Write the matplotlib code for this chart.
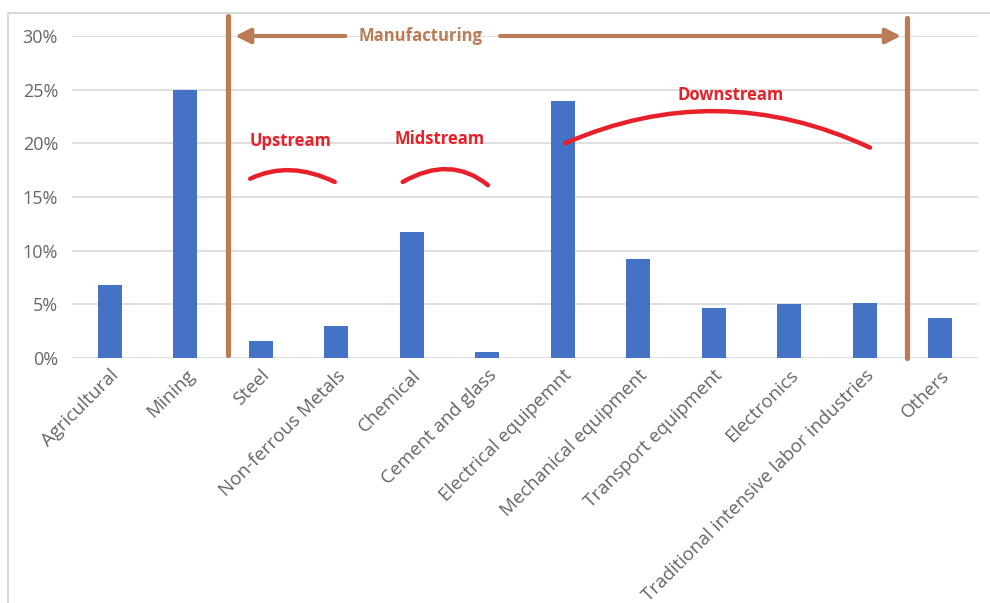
import numpy as np
import matplotlib.pyplot as plt
from matplotlib.path import Path
from matplotlib.patches import PathPatch
from matplotlib.lines import Line2D

categories = ["Agricultural", "Mining", "Steel", "Non-ferrous Metals", "Chemical",
              "Cement and glass", "Electrical equipemnt", "Mechanical equipment",
              "Transport equipment", "Electronics",
              "Traditional intensive labor industries", "Others"]
shares = [6.8, 25.0, 1.6, 3.0, 11.7, 0.6, 23.9, 9.2, 4.7, 5.0, 5.1, 3.7]
y_ticks = [0, 5, 10, 15, 20, 25, 30]

blue = '#4472C4'
brown = '#B97C57'
red = '#E8202A'
gray = '#666666'

plt.rcParams['font.family'] = ['Open Sans', 'DejaVu Sans']

fig = plt.figure(figsize=(9.9, 6.03), dpi=100, facecolor='white')
ax = fig.add_axes([72/990, 1 - 358/603, 906/990, 322/603])

x = np.arange(len(categories))
ax.bar(x, shares, width=0.32, color=blue, zorder=3)

ax.set_xlim(-0.5, len(categories) - 0.5)
ax.set_ylim(0, 30)
ax.set_yticks(y_ticks)
ax.set_yticklabels([f"{t}%" for t in y_ticks], color=gray, fontsize=13)
ax.set_xticks(x)
ax.set_xticklabels(categories, rotation=45, ha='right', rotation_mode='anchor',
                   color=gray, fontsize=13.5)
ax.tick_params(axis='y', length=0, pad=10)
ax.tick_params(axis='x', length=0, pad=6)
for t in y_ticks:
    ax.axhline(t, color='#D9D9D9', lw=1.2, zorder=1)
for s in ax.spines.values():
    s.set_visible(False)

# manufacturing bracket
for xv, y0, y1 in [(1.57, 0.3, 31.9), (10.56, 0.0, 31.7)]:
    ax.plot([xv, xv], [y0, y1], color=brown, lw=3.8, solid_capstyle='round',
            clip_on=False, zorder=4)
arrow = dict(arrowstyle='-|>,head_length=0.9,head_width=0.45', color=brown, lw=3,
             shrinkA=0, shrinkB=0)
ax.annotate('', xy=(1.66, 30), xytext=(3.12, 30), arrowprops=arrow, zorder=4)
ax.annotate('', xy=(10.48, 30), xytext=(5.17, 30), arrowprops=arrow, zorder=4)
ax.text(4.12, 30, "Manufacturing", color=brown, fontsize=12, fontweight='bold',
        ha='center', va='center', zorder=5)

# stream curves
def arc(p0, peak, p2):
    p0, peak, p2 = map(np.array, (p0, peak, p2))
    ctrl = 2 * peak - 0.5 * (p0 + p2)
    path = Path([p0, ctrl, p2], [Path.MOVETO, Path.CURVE3, Path.CURVE3])
    ax.add_patch(PathPatch(path, fill=False, edgecolor=red, lw=3.2,
                           capstyle='round', zorder=5))

arc((1.86, 16.7), (2.40, 17.5), (2.98, 16.4))
arc((3.88, 16.4), (4.48, 17.6), (5.01, 16.1))
arc((6.03, 20.0), (8.05, 23.0), (10.07, 19.6))

ax.text(2.40, 20.2, "Upstream", color=red, fontsize=12, fontweight='bold',
        ha='center', va='center', zorder=5)
ax.text(4.37, 20.4, "Midstream", color=red, fontsize=12, fontweight='bold',
        ha='center', va='center', zorder=5)
ax.text(8.23, 24.5, "Downstream", color=red, fontsize=12, fontweight='bold',
        ha='center', va='center', zorder=5)

# chart area border
fig.add_artist(Line2D([8/990, 8/990], [0, 1 - 13/603], transform=fig.transFigure,
                      color='#D9D9D9', lw=1.5))
fig.add_artist(Line2D([8/990, 1], [1 - 13/603, 1 - 13/603], transform=fig.transFigure,
                      color='#D9D9D9', lw=1.5))

plt.savefig("out.png", dpi=100, facecolor='white')
plt.close()
